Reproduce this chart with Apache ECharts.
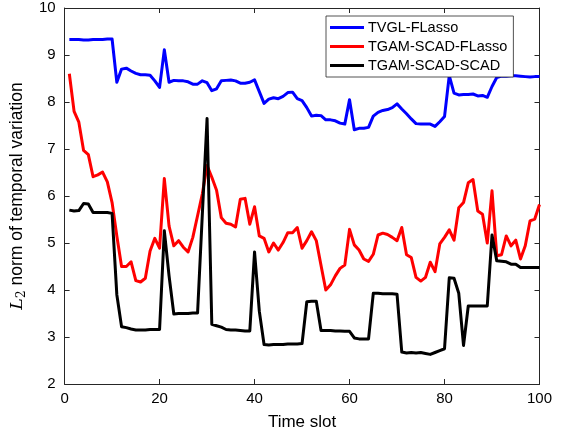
<!DOCTYPE html>
<html>
<head>
<meta charset="utf-8">
<script src="https://cdn.jsdelivr.net/npm/echarts@6/dist/echarts.min.js"></script>
<style>html,body{margin:0;padding:0;background:#fff;}#c{width:569px;height:436px;}</style>
</head>
<body>
<div id="c"></div>
<script>
const seriesNames = ['TVGL-FLasso', 'TGAM-SCAD-FLasso', 'TGAM-SCAD-SCAD'];
const timeSlots = Array.from({length: 100}, (_, i) => i + 1);
const tvgl = [9.33,9.33,9.33,9.32,9.32,9.33,9.33,9.33,9.34,9.34,
  8.42,8.70,8.72,8.66,8.61,8.58,8.58,8.57,8.45,8.31,
  9.11,8.42,8.46,8.45,8.45,8.43,8.38,8.38,8.45,8.41,
  8.24,8.28,8.45,8.46,8.47,8.45,8.40,8.40,8.42,8.47,
  8.22,7.97,8.06,8.09,8.07,8.12,8.20,8.21,8.07,8.03,
  7.88,7.70,7.72,7.71,7.62,7.62,7.60,7.55,7.53,8.05,
  7.41,7.44,7.44,7.46,7.70,7.78,7.82,7.84,7.88,7.96,
  7.85,7.75,7.64,7.54,7.53,7.53,7.53,7.48,7.58,7.69,
  8.56,8.19,8.15,8.16,8.16,8.17,8.13,8.14,8.10,8.33,
  8.52,8.55,8.55,8.56,8.56,8.55,8.54,8.53,8.54,8.54];
const scadFlasso = [8.60,7.80,7.57,6.97,6.88,6.41,6.45,6.51,6.30,5.86,
  5.15,4.50,4.50,4.60,4.20,4.17,4.25,4.83,5.10,4.89,
  6.37,5.36,4.94,5.05,4.91,4.81,5.12,5.58,6.04,6.65,
  6.40,6.12,5.54,5.42,5.40,5.34,5.93,5.95,5.40,5.77,
  5.15,5.10,4.81,5.00,4.85,5.01,5.22,5.22,5.33,4.89,
  5.05,5.24,5.05,4.52,4.00,4.11,4.30,4.46,4.53,5.29,
  4.96,4.85,4.66,4.61,4.76,5.17,5.21,5.18,5.12,5.05,
  5.33,4.75,4.69,4.27,4.19,4.27,4.59,4.39,4.98,5.12,
  5.28,5.06,5.75,5.86,6.28,6.35,5.68,5.61,5.00,6.11,
  4.73,4.75,5.15,4.94,5.06,4.66,4.94,5.47,5.51,5.82];
const scadScad = [5.70,5.68,5.69,5.84,5.83,5.65,5.65,5.65,5.65,5.63,
  3.90,3.22,3.20,3.17,3.15,3.15,3.15,3.16,3.16,3.16,
  5.26,4.30,3.49,3.50,3.50,3.50,3.51,3.51,5.60,7.65,
  3.27,3.24,3.21,3.16,3.15,3.15,3.14,3.13,3.13,4.81,
  3.55,2.84,2.83,2.84,2.84,2.84,2.85,2.85,2.85,2.86,
  3.75,3.76,3.76,3.14,3.14,3.14,3.13,3.13,3.12,3.12,
  2.98,2.96,2.96,2.96,3.93,3.93,3.92,3.92,3.92,3.91,
  2.68,2.66,2.67,2.66,2.67,2.65,2.63,2.67,2.71,2.75,
  4.26,4.25,3.93,2.82,3.66,3.66,3.66,3.66,3.66,5.17,
  4.62,4.61,4.60,4.55,4.55,4.48,4.48,4.48,4.48,4.48];
const colors = ['#0000ff', '#ff0000', '#000000'];

const chart = echarts.init(document.getElementById('c'), null, {renderer: 'canvas'});
const FONT = 'Liberation Sans, Arial, Helvetica, sans-serif';
const axisCol = '#262626';
const seriesData = [tvgl, scadFlasso, scadScad];

const baseAxis = {
  axisLine: {show: true, onZero: false, lineStyle: {color: axisCol, width: 1}},
  axisTick: {show: true, inside: true, length: 5, lineStyle: {color: axisCol}},
  splitLine: {show: false}
};

chart.setOption({
  animation: false,
  backgroundColor: '#fff',
  grid: {left: 61, right: 29.5, top: 8, bottom: 50.5, containLabel: false},
  legend: {
    data: seriesNames.map(n => ({name: n, icon: 'rect'})),
    orient: 'vertical',
    left: 326, top: 16,
    itemWidth: 34, itemHeight: 3, itemGap: 4,
    padding: [4, 6, 4, 4],
    backgroundColor: '#fff',
    borderColor: axisCol, borderWidth: 0.8,
    borderRadius: 0,
    textStyle: {fontFamily: FONT, fontSize: 14.5, color: '#000', padding: [0,0,0,-1]}
  },
  xAxis: [
    Object.assign({}, baseAxis, {
      type: 'value', min: 0, max: 100, interval: 20, position: 'bottom',
      name: 'Time slot', nameLocation: 'middle', nameGap: 30,
      nameTextStyle: {fontFamily: FONT, fontSize: 17, color: '#000'},
      axisLabel: {fontFamily: FONT, fontSize: 15, color: '#000', margin: 7}
    }),
    Object.assign({}, baseAxis, {
      type: 'value', min: 0, max: 100, interval: 20, position: 'top',
      axisLabel: {show: false}
    })
  ],
  yAxis: [
    Object.assign({}, baseAxis, {
      type: 'value', min: 2, max: 10, interval: 1, position: 'left',
      name: '{i|L}{sub|2} norm of temporal variation', nameLocation: 'middle', nameGap: 31,
      nameTextStyle: {
        fontFamily: FONT, fontSize: 17.5, color: '#000',
        rich: {
          i: {fontFamily: 'DejaVu Serif, serif', fontStyle: 'italic', fontSize: 17.5, color: '#000'},
          sub: {fontFamily: 'DejaVu Serif, serif', fontSize: 12, color: '#000', padding: [10, 0, 0, 0]}
        }
      },
      axisLabel: {fontFamily: FONT, fontSize: 15, color: '#000', margin: 9}
    }),
    Object.assign({}, baseAxis, {
      type: 'value', min: 2, max: 10, interval: 1, position: 'right',
      axisLabel: {show: false}
    })
  ],
  series: seriesNames.map((name, k) => ({
    name: name,
    type: 'line',
    xAxisIndex: 0, yAxisIndex: 0,
    showSymbol: false,
    symbol: 'none',
    color: colors[k],
    lineStyle: {color: colors[k], width: 3, join: 'round'},
    data: timeSlots.map((t, i) => [t, seriesData[k][i]])
  }))
});
</script>
</body>
</html>
